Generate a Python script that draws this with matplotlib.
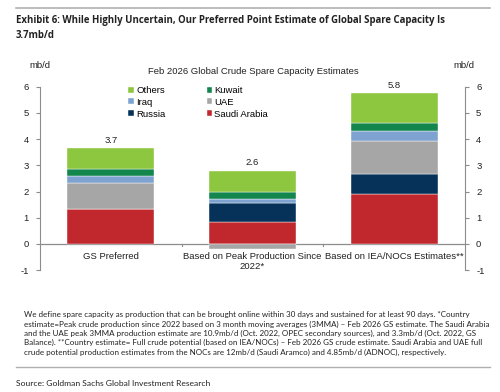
import matplotlib
matplotlib.use("Agg")
import matplotlib.pyplot as plt
import numpy as np

categories = ["GS Preferred", "Based on Peak Production Since\n2022*", "Based on IEA/NOCs Estimates**"]
saudi = [1.35, 0.83, 1.89]
russia = [0.0, 0.75, 0.77]
uae = [0.98, -0.20, 1.28]
iraq = [0.28, 0.15, 0.37]
kuwait = [0.24, 0.27, 0.29]
others = [0.82, 0.80, 1.16]
totals = [3.7, 2.6, 5.8]

series = [
    ("Saudi Arabia", saudi, "#c0282d"),
    ("Russia", russia, "#06325a"),
    ("UAE", uae, "#a6a6a6"),
    ("Iraq", iraq, "#7ea3d1"),
    ("Kuwait", kuwait, "#12864c"),
    ("Others", others, "#8dc63f"),
]

plt.rcParams["font.family"] = ["Liberation Sans", "DejaVu Sans"]
plt.rcParams["axes.unicode_minus"] = False
fs = 6.8

fig = plt.figure(figsize=(5.0, 3.92), dpi=100)
ax = fig.add_axes([0.08, 0.3107, 0.85, 0.4681])

x = np.arange(len(categories))
pos_bottom = np.zeros(len(categories))
neg_bottom = np.zeros(len(categories))
bars = {}
for name, vals, color in series:
    vals = np.array(vals)
    bottom = np.where(vals >= 0, pos_bottom, neg_bottom)
    bars[name] = ax.bar(x, vals, width=0.615, bottom=bottom, color=color,
                        edgecolor="white", linewidth=0.3, label=name)
    pos_bottom += np.where(vals >= 0, vals, 0)
    neg_bottom += np.where(vals < 0, vals, 0)

for xi, top, tot in zip(x, pos_bottom, totals):
    ax.text(xi, top + 0.12, f"{tot:.1f}", ha="center", va="bottom", fontsize=fs, color="#222222")

ax.set_xlim(-0.5, 2.5)
ax.set_ylim(-1, 6)
ax.set_yticks(range(-1, 7))
ax.axhline(0, color="#8c8c8c", linewidth=0.9, zorder=0)

for s in ["top", "bottom"]:
    ax.spines[s].set_visible(False)
for s in ["left", "right"]:
    ax.spines[s].set_color("#8c8c8c")
    ax.spines[s].set_linewidth(0.8)

ax.tick_params(axis="y", which="both", left=True, right=True, labelleft=True, labelright=True,
               length=3, width=0.8, color="#8c8c8c", labelsize=fs, labelcolor="#222222", pad=5)
ax.set_xticks([])
for b in [0.5, 1.5]:
    ax.plot([b, b], [0, -0.07], color="#8c8c8c", linewidth=0.8, clip_on=False)
for xi, lab in zip(x, categories):
    ax.text(xi, -0.3, lab, ha="center", va="top", fontsize=fs, color="#222222", linespacing=1.2)

handles = [bars[n] for n in ["Others", "Iraq", "Russia", "Kuwait", "UAE", "Saudi Arabia"]]
labels = ["Others", "Iraq", "Russia", "Kuwait", "UAE", "Saudi Arabia"]
ax.legend(handles, labels, ncol=2, frameon=False, fontsize=fs, loc="upper left",
          bbox_to_anchor=(0.197, 1.03), handlelength=0.6, handleheight=0.6,
          handletextpad=0.2, columnspacing=4.4, labelspacing=0.3, borderaxespad=0.1)

fig.text(0.506, 1 - 71 / 392, "Feb 2026 Global Crude Spare Capacity Estimates", ha="center", va="center",
         fontsize=fs, color="#222222")
fig.text(0.08, 1 - 65 / 392, "mb/d", ha="center", va="center", fontsize=fs, color="#222222")
fig.text(0.927, 1 - 65 / 392, "mb/d", ha="center", va="center", fontsize=fs, color="#222222")

# header
fig.add_artist(plt.Line2D([0.032, 0.98], [1 - 8 / 392, 1 - 8 / 392], color="#b0b0b0", linewidth=1.2))
fig.text(0.032, 1 - 21 / 392,
         "Exhibit 6: While Highly Uncertain, Our Preferred Point Estimate of Global Spare Capacity Is",
         ha="left", va="center", fontsize=6.95, fontweight="bold", family="Open Sans", color="#222222")
fig.text(0.032, 1 - 35 / 392, "3.7mb/d", ha="left", va="center", fontsize=6.95, fontweight="bold",
         family="Open Sans", color="#222222")

footnote = [
    "We define spare capacity as production that can be brought online within 30 days and sustained for at least 90 days. *Country",
    "estimate=Peak crude production since 2022 based on 3 month moving averages (3MMA) \u2013 Feb 2026 GS estimate. The Saudi Arabia",
    "and the UAE peak 3MMA production estimate are 10.9mb/d (Oct. 2022, OPEC secondary sources), and 3.3mb/d (Oct. 2022, GS",
    "Balance). **Country estimate= Full crude potential (based on IEA/NOCs) \u2013 Feb 2026 GS crude estimate. Saudi Arabia and UAE full",
    "crude potential production estimates from the NOCs are 12mb/d (Saudi Aramco) and 4.85mb/d (ADNOC), respectively.",
]
for i, line in enumerate(footnote):
    fig.text(0.048, 1 - (315 + i * 9.3) / 392, line, ha="left", va="center", fontsize=5.8,
             family="Lato", color="#222222")

fig.add_artist(plt.Line2D([0.032, 0.98], [1 - 367 / 392, 1 - 367 / 392], color="#b0b0b0", linewidth=1.0))
fig.text(0.032, 1 - 384 / 392, "Source: Goldman Sachs Global Investment Research", ha="left", va="center",
         fontsize=6.1, family="Lato", color="#222222")

fig.savefig("out.png", dpi=100)
